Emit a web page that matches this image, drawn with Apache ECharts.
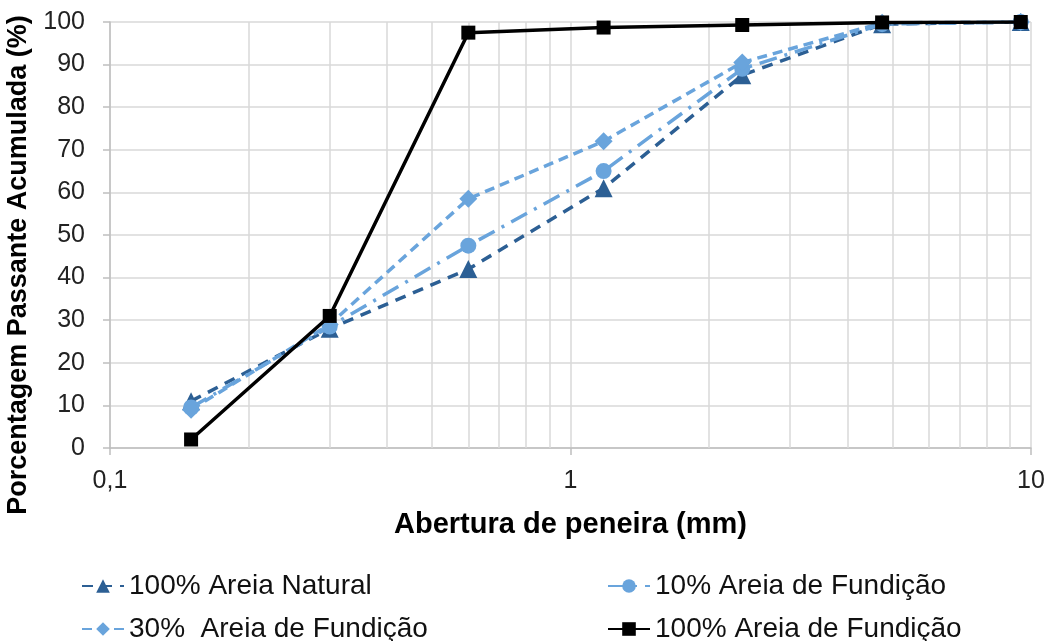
<!DOCTYPE html>
<html><head><meta charset="utf-8">
<script src="https://cdn.jsdelivr.net/npm/echarts@6/dist/echarts.min.js"></script>
<style>html,body{margin:0;padding:0;background:#fff}#c{width:1049px;height:641px}</style>
</head><body><div id="c"></div>
<script>
const sieves = [0.15, 0.3, 0.6, 1.18, 2.36, 4.75, 9.5];
const natural100 = [11, 28, 42, 61, 87.5, 99.5, 100];
const fundicao10 = [9.5, 28.5, 47.5, 65, 89, 99.5, 100];
const fundicao30 = [9, 29, 58.5, 72, 90.5, 99.8, 100];
const fundicao100 = [2, 31, 97.5, 98.7, 99.3, 99.9, 100];
const minorGrid = [0.2,0.3,0.4,0.5,0.6,0.7,0.8,0.9,2,3,4,5,6,7,8,9];
const names = ['100% Areia Natural','10% Areia de Fundição','30%  Areia de Fundição','100% Areia de Fundição'];

const pairs = arr => sieves.map((x,i)=>[x,arr[i]]);
const font = 'Liberation Sans, Arial, Helvetica, sans-serif';
const dark = '#2c5f94', light = '#69a4dc';

const legendAt = (name, left, top) => ({
  orient: 'horizontal', left: left, top: top, itemWidth: 42, itemHeight: 17, itemGap: 4,
  data: [name], textStyle: {fontSize: 28, color: '#111', fontFamily: font}
});

const chart = echarts.init(document.getElementById('c'));
chart.setOption({
  animation: false,
  textStyle: {fontFamily: font},
  grid: {left: 110, right: 18, top: 22, bottom: 193, outerBoundsMode: 'none', containLabel: false},
  xAxis: {
    type: 'log', logBase: 10, min: 0.1, max: 10,
    name: 'Abertura de peneira (mm)', nameLocation: 'middle', nameGap: 62,
    nameTextStyle: {fontSize: 29, fontWeight: 'bold', color: '#000', fontFamily: font},
    axisLine: {lineStyle: {color: '#bfbfbf', width: 1.5}},
    axisTick: {show: true, length: 7, lineStyle: {color: '#bfbfbf', width: 1.5}},
    axisLabel: {fontSize: 25, color: '#222', margin: 21, formatter: v => String(v).replace('.', ',')},
    splitLine: {show: true, lineStyle: {color: '#d9d9d9', width: 1.5}},
    minorTick: {show: false}, minorSplitLine: {show: false}
  },
  yAxis: {
    type: 'value', min: 0, max: 100, interval: 10,
    name: 'Porcentagem Passante Acumulada (%)', nameLocation: 'middle', nameGap: 72,
    nameTextStyle: {fontSize: 27, fontWeight: 'bold', color: '#000', fontFamily: font, padding: [0, 60, 0, 0]},
    axisLine: {show: true, lineStyle: {color: '#bfbfbf', width: 1.5}},
    axisTick: {show: true, length: 7, inside: false, lineStyle: {color: '#bfbfbf', width: 1.5}},
    axisLabel: {fontSize: 25, color: '#222', margin: 25},
    splitLine: {show: true, lineStyle: {color: '#d9d9d9', width: 1.5}}
  },
  legend: [
    legendAt(names[0], 76, 567),
    legendAt(names[2], 76, 610),
    legendAt(names[1], 602, 567),
    legendAt(names[3], 602, 610)
  ],
  series: [
    {name: names[0], type: 'line', data: pairs(natural100), symbol: 'triangle', symbolSize: 18,
     color: dark, lineStyle: {width: 3.5, type: [11, 8], color: dark}, itemStyle: {color: dark},
     markLine: {silent: true, symbol: 'none', label: {show: false},
       lineStyle: {color: '#d9d9d9', width: 1.5, type: 'solid'},
       data: minorGrid.map(v => ({xAxis: v})), z: 1}, z: 3},
    {name: names[1], type: 'line', data: pairs(fundicao10), symbol: 'circle', symbolSize: 16,
     color: light, lineStyle: {width: 3.5, type: [18, 8, 3, 8], color: light}, itemStyle: {color: light}, z: 4},
    {name: names[2], type: 'line', data: pairs(fundicao30), symbol: 'diamond', symbolSize: 18,
     color: light, lineStyle: {width: 3.5, type: [10, 6], color: light}, itemStyle: {color: light}, z: 5},
    {name: names[3], type: 'line', data: pairs(fundicao100), symbol: 'rect', symbolSize: 14,
     color: '#000', lineStyle: {width: 3.5, type: 'solid', color: '#000'}, itemStyle: {color: '#000'}, z: 6}
  ]
});
</script></body></html>
